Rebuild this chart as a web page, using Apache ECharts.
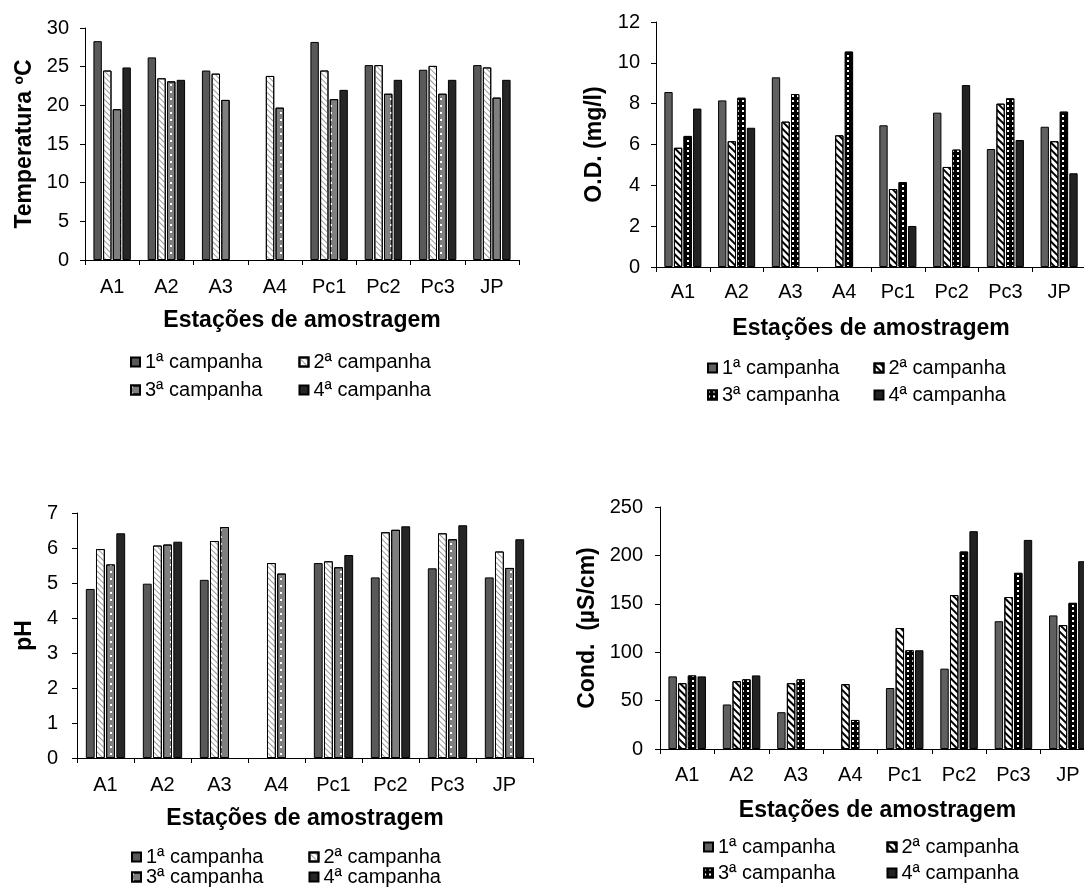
<!DOCTYPE html>
<html><head><meta charset="utf-8">
<script src="https://cdn.jsdelivr.net/npm/echarts@6/dist/echarts.min.js"></script>
<style>
html,body{margin:0;padding:0;background:#fff;overflow:hidden;width:1084px;height:890px;position:relative;}
.q{position:absolute;height:445px;}
</style>
</head><body>
<div id="c1" class="q" style="left:0;top:0;width:542px"></div>
<div id="c2" class="q" style="left:542px;top:0;width:600px"></div>
<div id="c3" class="q" style="left:0;top:445px;width:542px"></div>
<div id="c4" class="q" style="left:542px;top:445px;width:600px"></div>
<script>
// ---- data ----
const categories = ['A1','A2','A3','A4','Pc1','Pc2','Pc3','JP'];
const seriesNames = ['1ª campanha','2ª campanha','3ª campanha','4ª campanha'];
const xTitle = 'Estações de amostragem';

const tempTitle = 'Temperatura ºC';
const temp1 = [28.3, 26.2, 24.5, null, 28.2, 25.2, 24.6, 25.2];
const temp2 = [24.5, 23.5, 24.1, 23.8, 24.5, 25.2, 25.1, 24.9];
const temp3 = [19.5, 23.1, 20.7, 19.7, 20.8, 21.5, 21.5, 21.0];
const temp4 = [24.9, 23.3, null, null, 22.0, 23.3, 23.3, 23.3];

const odTitle = 'O.D. (mg/l)';
const od1 = [8.57, 8.16, 9.29, null, 6.94, 7.56, 5.78, 6.87];
const od2 = [5.84, 6.16, 7.12, 6.45, 3.82, 4.90, 8.00, 6.16];
const od3 = [6.42, 8.29, 8.47, 10.55, 4.16, 5.75, 8.26, 7.61];
const od4 = [7.76, 6.82, null, null, 2.01, 8.91, 6.22, 4.59];

const phTitle = 'pH';
const ph1 = [4.83, 4.98, 5.09, null, 5.57, 5.16, 5.42, 5.16];
const ph2 = [5.97, 6.07, 6.20, 5.57, 5.62, 6.45, 6.42, 5.90];
const ph3 = [5.53, 6.10, 6.60, 5.27, 5.45, 6.52, 6.25, 5.43];
const ph4 = [6.42, 6.18, null, null, 5.80, 6.62, 6.65, 6.25];

const condTitle = 'Cond.  (µS/cm)';
const cond1 = [75, 46, 38, null, 63, 83, 132, 138];
const cond2 = [68, 70, 68, 67, 125, 159, 157, 128];
const cond3 = [76, 72, 72, 30, 102, 204, 182, 151];
const cond4 = [75, 76, null, null, 102, 225, 216, 194];

// ---- styles ----
const FONT = "'Liberation Sans', Arial, sans-serif";
const styleA = [
  {color:'#595959'},
  {color:'#ffffff', decal:{symbol:'rect', symbolSize:1, dashArrayX:[1,0], dashArrayY:[1,2.2], rotation:Math.PI/4, color:'#9a9a9a'}},
  {color:'#7f7f7f', decal:{symbol:'rect', symbolSize:1, dashArrayX:[1.5,7.5], dashArrayY:[1.5,5], color:'#ffffff'}},
  {color:'#262626'}
];
const styleB = [
  {color:'#606060'},
  {color:'#ffffff', decal:{symbol:'rect', symbolSize:1, dashArrayX:[1,0], dashArrayY:[1.5,2.5], rotation:Math.PI/4, color:'#000000'}},
  {color:'#000000', decal:{symbol:'rect', symbolSize:1, dashArrayX:[2,2.5], dashArrayY:[2,3], color:'#ffffff'}},
  {color:'#222222'}
];

function legendRow(names, x, top, gap) {
  return {data:names, left:x, top:top, itemGap:gap, padding:0,
    icon:'rect', itemWidth:9, itemHeight:9, selectedMode:false,
    textStyle:{fontFamily:FONT, fontSize:20, color:'#000'}};
}

function build(cfg) {
  const o = cfg.origin;
  const g = cfg.grid;
  return {
    animation:false,
    textStyle:{fontFamily:FONT},
    grid:{left:g.left-o[0], top:g.top-o[1], width:g.width, height:g.height, containLabel:false},
    legend:[
      legendRow([seriesNames[0],seriesNames[1]], cfg.leg.x-o[0], cfg.leg.y1-o[1], cfg.leg.gap),
      legendRow([seriesNames[2],seriesNames[3]], cfg.leg.x-o[0], cfg.leg.y2-o[1], cfg.leg.gap)
    ],
    xAxis:{
      type:'category', data:categories,
      name:xTitle, nameLocation:'middle', nameGap:cfg.xGap,
      nameTextStyle:{fontFamily:FONT, fontSize:23, fontWeight:'bold', color:'#000'},
      axisLine:{lineStyle:{color:'#000', width:1}},
      axisTick:{show:true, length:5, lineStyle:{color:'#000'}},
      axisLabel:{fontFamily:FONT, fontSize:20, color:'#000', margin:cfg.xMargin, interval:0}
    },
    yAxis:{
      type:'value', min:0, max:cfg.max, interval:cfg.interval,
      name:cfg.yTitle, nameLocation:'middle', nameGap:cfg.yGap,
      nameTextStyle:{fontFamily:FONT, fontSize:23, fontWeight:'bold', color:'#000'},
      axisLine:{show:true, lineStyle:{color:'#000', width:1}},
      axisTick:{show:true, length:5, lineStyle:{color:'#000'}},
      splitLine:{show:false},
      axisLabel:{fontFamily:FONT, fontSize:20, color:'#000', margin:cfg.yMargin}
    },
    series: cfg.data.map((d,i)=>({
      type:'bar', name:seriesNames[i], data:d,
      barGap:'15%', barCategoryGap:'31%',
      itemStyle:Object.assign({borderColor:'#000', borderWidth:1}, cfg.styles[i]),
      emphasis:{disabled:true}
    }))
  };
}

const charts = [
  {id:'c1', origin:[0,0], grid:{left:85, top:28, width:434, height:232}, max:30, interval:5,
   yTitle:tempTitle, yGap:48, xGap:49, xMargin:17, yMargin:16, styles:styleA, data:[temp1,temp2,temp3,temp4],
   leg:{x:130, y1:352, y2:380, gap:36}},
  {id:'c2', origin:[542,0], grid:{left:656, top:22, width:430, height:245}, max:12, interval:2,
   yTitle:odTitle, yGap:50, xGap:50, xMargin:15, yMargin:16, styles:styleB, data:[od1,od2,od3,od4],
   leg:{x:707, y1:358, y2:385, gap:34}},
  {id:'c3', origin:[0,445], grid:{left:77, top:513, width:456, height:245}, max:7, interval:1,
   yTitle:phTitle, yGap:34, xGap:49, xMargin:17, yMargin:19, styles:styleA, data:[ph1,ph2,ph3,ph4],
   leg:{x:131, y1:847, y2:867, gap:45}},
  {id:'c4', origin:[542,445], grid:{left:660, top:507, width:435, height:242}, max:250, interval:50,
   yTitle:condTitle, yGap:53, xGap:50, xMargin:16, yMargin:17, styles:styleB, data:[cond1,cond2,cond3,cond4],
   leg:{x:703, y1:837, y2:863, gap:51}}
];

charts.forEach(c=>{
  const inst = echarts.init(document.getElementById(c.id), null, {renderer:'canvas'});
  inst.setOption(build(c));
});
</script>
</body></html>
